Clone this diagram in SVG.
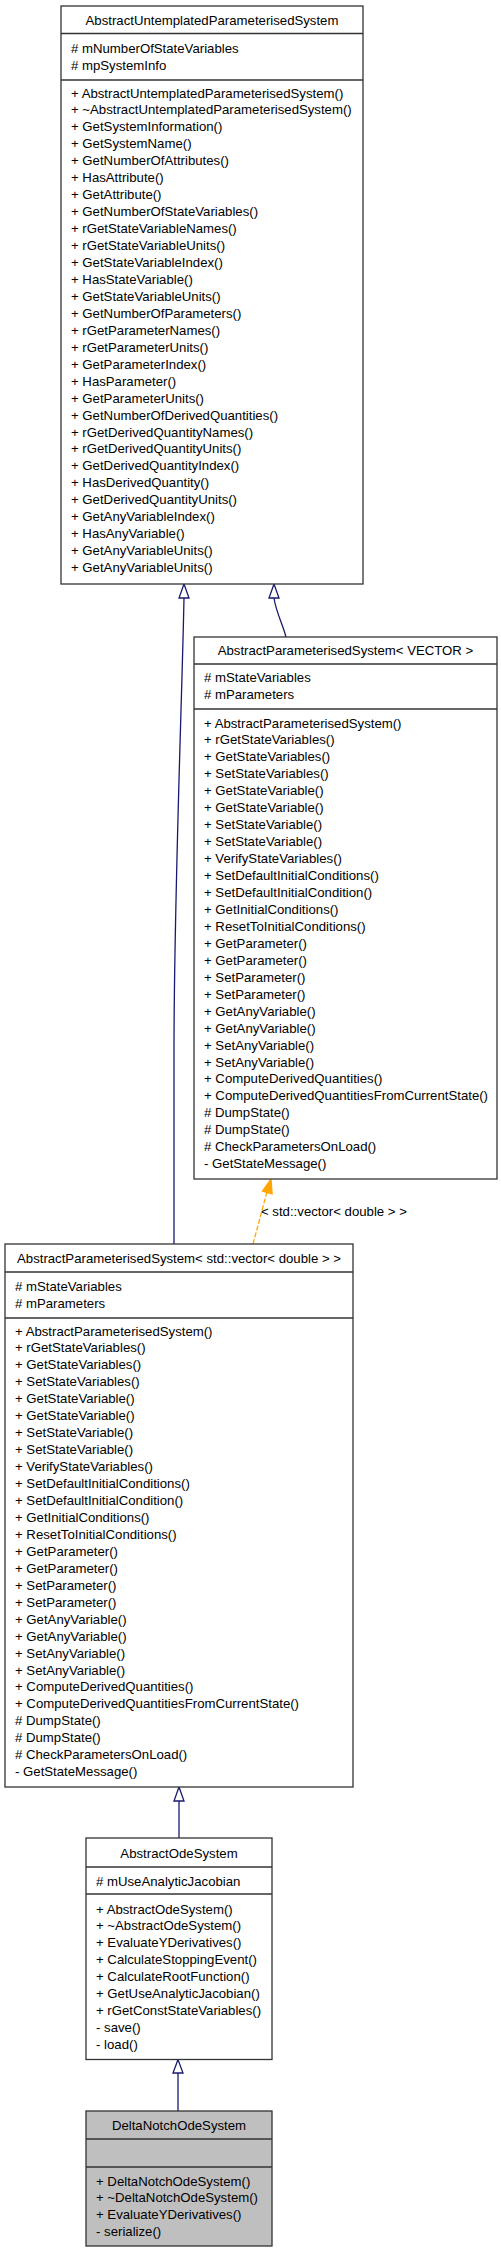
<svg xmlns="http://www.w3.org/2000/svg" width="501" height="2251" viewBox="0 0 501 2251">
<style>
text{font-family:"Liberation Sans",Arial,Helvetica,sans-serif;font-size:13.2px;fill:#000}
.t{text-anchor:middle}
.box{fill:#fff;stroke:#333;stroke-width:1.3}
.gray{fill:#bfbfbf}
.div{stroke:#333;stroke-width:1.3}
.inh{fill:none;stroke:#191970;stroke-width:1.3}
.ah{fill:#fff;stroke:#191970;stroke-width:1.3}
.tmpl{fill:none;stroke:#ffa500;stroke-width:1.3;stroke-dasharray:5,2}
.ao{fill:#ffa500;stroke:#ffa500;stroke-width:1.3}
</style>
<rect width="501" height="2251" fill="#fff"/>
<g id="connectors">
  <path class="inh" d="M286,637 C283,625 276,612 274,598"/>
  <polygon class="ah" points="274,584 269,598 279,598"/>
  <path class="inh" d="M174,1244 L174,1050 C174,900 182,700 184,598"/>
  <polygon class="ah" points="184,584 179,598 189,598"/>
  <path class="tmpl" d="M253,1244 L267,1192"/>
  <polygon class="ao" points="271,1179 262.5,1191.2 272.1,1193.8"/>
  <text x="261" y="1215.5">&lt; std::vector&lt; double &gt; &gt;</text>
  <path class="inh" d="M179,1838 L179,1801"/>
  <polygon class="ah" points="179,1787 174,1801 184,1801"/>
  <path class="inh" d="M178,2111 L178,2073"/>
  <polygon class="ah" points="178,2059.5 173,2073 183,2073"/>
</g>
<g id="AbstractUntemplatedParameterisedSystem">
  <rect class="box" x="61" y="6" width="302" height="578"/>
  <line class="div" x1="61" y1="33.5" x2="363" y2="33.5"/>
  <line class="div" x1="61" y1="80" x2="363" y2="80"/>
  <text class="t" x="212" y="24.5">AbstractUntemplatedParameterisedSystem</text>
  <text x="71" y="52.5"># mNumberOfStateVariables</text>
  <text x="71" y="69.5"># mpSystemInfo</text>
  <text x="71" y="97.5">+ AbstractUntemplatedParameterisedSystem()</text>
  <text x="71" y="114.45">+ ~AbstractUntemplatedParameterisedSystem()</text>
  <text x="71" y="131.4">+ GetSystemInformation()</text>
  <text x="71" y="148.35">+ GetSystemName()</text>
  <text x="71" y="165.3">+ GetNumberOfAttributes()</text>
  <text x="71" y="182.25">+ HasAttribute()</text>
  <text x="71" y="199.2">+ GetAttribute()</text>
  <text x="71" y="216.15">+ GetNumberOfStateVariables()</text>
  <text x="71" y="233.1">+ rGetStateVariableNames()</text>
  <text x="71" y="250.05">+ rGetStateVariableUnits()</text>
  <text x="71" y="267">+ GetStateVariableIndex()</text>
  <text x="71" y="283.95">+ HasStateVariable()</text>
  <text x="71" y="300.9">+ GetStateVariableUnits()</text>
  <text x="71" y="317.85">+ GetNumberOfParameters()</text>
  <text x="71" y="334.8">+ rGetParameterNames()</text>
  <text x="71" y="351.75">+ rGetParameterUnits()</text>
  <text x="71" y="368.7">+ GetParameterIndex()</text>
  <text x="71" y="385.65">+ HasParameter()</text>
  <text x="71" y="402.6">+ GetParameterUnits()</text>
  <text x="71" y="419.55">+ GetNumberOfDerivedQuantities()</text>
  <text x="71" y="436.5">+ rGetDerivedQuantityNames()</text>
  <text x="71" y="453.45">+ rGetDerivedQuantityUnits()</text>
  <text x="71" y="470.4">+ GetDerivedQuantityIndex()</text>
  <text x="71" y="487.35">+ HasDerivedQuantity()</text>
  <text x="71" y="504.3">+ GetDerivedQuantityUnits()</text>
  <text x="71" y="521.25">+ GetAnyVariableIndex()</text>
  <text x="71" y="538.2">+ HasAnyVariable()</text>
  <text x="71" y="555.15">+ GetAnyVariableUnits()</text>
  <text x="71" y="572.1">+ GetAnyVariableUnits()</text>
</g>
<g id="AbstractParameterisedSystem_VECTOR">
  <rect class="box" x="194" y="637" width="303" height="542"/>
  <line class="div" x1="194" y1="664" x2="497" y2="664"/>
  <line class="div" x1="194" y1="709" x2="497" y2="709"/>
  <text class="t" x="345.5" y="655">AbstractParameterisedSystem&lt; VECTOR &gt;</text>
  <text x="204" y="681.5"># mStateVariables</text>
  <text x="204" y="698.5"># mParameters</text>
  <text x="204" y="727.5">+ AbstractParameterisedSystem()</text>
  <text x="204" y="744.45">+ rGetStateVariables()</text>
  <text x="204" y="761.4">+ GetStateVariables()</text>
  <text x="204" y="778.35">+ SetStateVariables()</text>
  <text x="204" y="795.3">+ GetStateVariable()</text>
  <text x="204" y="812.25">+ GetStateVariable()</text>
  <text x="204" y="829.2">+ SetStateVariable()</text>
  <text x="204" y="846.15">+ SetStateVariable()</text>
  <text x="204" y="863.1">+ VerifyStateVariables()</text>
  <text x="204" y="880.05">+ SetDefaultInitialConditions()</text>
  <text x="204" y="897">+ SetDefaultInitialCondition()</text>
  <text x="204" y="913.95">+ GetInitialConditions()</text>
  <text x="204" y="930.9">+ ResetToInitialConditions()</text>
  <text x="204" y="947.85">+ GetParameter()</text>
  <text x="204" y="964.8">+ GetParameter()</text>
  <text x="204" y="981.75">+ SetParameter()</text>
  <text x="204" y="998.7">+ SetParameter()</text>
  <text x="204" y="1015.65">+ GetAnyVariable()</text>
  <text x="204" y="1032.6">+ GetAnyVariable()</text>
  <text x="204" y="1049.55">+ SetAnyVariable()</text>
  <text x="204" y="1066.5">+ SetAnyVariable()</text>
  <text x="204" y="1083.45">+ ComputeDerivedQuantities()</text>
  <text x="204" y="1100.4">+ ComputeDerivedQuantitiesFromCurrentState()</text>
  <text x="204" y="1117.35"># DumpState()</text>
  <text x="204" y="1134.3"># DumpState()</text>
  <text x="204" y="1151.25"># CheckParametersOnLoad()</text>
  <text x="204" y="1168.2">- GetStateMessage()</text>
</g>
<g id="AbstractParameterisedSystem_vector_double">
  <rect class="box" x="5" y="1244" width="348" height="543"/>
  <line class="div" x1="5" y1="1272" x2="353" y2="1272"/>
  <line class="div" x1="5" y1="1318" x2="353" y2="1318"/>
  <text class="t" x="179" y="1262.5">AbstractParameterisedSystem&lt; std::vector&lt; double &gt; &gt;</text>
  <text x="15" y="1290.5"># mStateVariables</text>
  <text x="15" y="1307.5"># mParameters</text>
  <text x="15" y="1335.5">+ AbstractParameterisedSystem()</text>
  <text x="15" y="1352.45">+ rGetStateVariables()</text>
  <text x="15" y="1369.4">+ GetStateVariables()</text>
  <text x="15" y="1386.35">+ SetStateVariables()</text>
  <text x="15" y="1403.3">+ GetStateVariable()</text>
  <text x="15" y="1420.25">+ GetStateVariable()</text>
  <text x="15" y="1437.2">+ SetStateVariable()</text>
  <text x="15" y="1454.15">+ SetStateVariable()</text>
  <text x="15" y="1471.1">+ VerifyStateVariables()</text>
  <text x="15" y="1488.05">+ SetDefaultInitialConditions()</text>
  <text x="15" y="1505">+ SetDefaultInitialCondition()</text>
  <text x="15" y="1521.95">+ GetInitialConditions()</text>
  <text x="15" y="1538.9">+ ResetToInitialConditions()</text>
  <text x="15" y="1555.85">+ GetParameter()</text>
  <text x="15" y="1572.8">+ GetParameter()</text>
  <text x="15" y="1589.75">+ SetParameter()</text>
  <text x="15" y="1606.7">+ SetParameter()</text>
  <text x="15" y="1623.65">+ GetAnyVariable()</text>
  <text x="15" y="1640.6">+ GetAnyVariable()</text>
  <text x="15" y="1657.55">+ SetAnyVariable()</text>
  <text x="15" y="1674.5">+ SetAnyVariable()</text>
  <text x="15" y="1691.45">+ ComputeDerivedQuantities()</text>
  <text x="15" y="1708.4">+ ComputeDerivedQuantitiesFromCurrentState()</text>
  <text x="15" y="1725.35"># DumpState()</text>
  <text x="15" y="1742.3"># DumpState()</text>
  <text x="15" y="1759.25"># CheckParametersOnLoad()</text>
  <text x="15" y="1776.2">- GetStateMessage()</text>
</g>
<g id="AbstractOdeSystem">
  <rect class="box" x="86" y="1838" width="186" height="221.5"/>
  <line class="div" x1="86" y1="1867" x2="272" y2="1867"/>
  <line class="div" x1="86" y1="1894" x2="272" y2="1894"/>
  <text class="t" x="179" y="1857.5">AbstractOdeSystem</text>
  <text x="96" y="1885.5"># mUseAnalyticJacobian</text>
  <text x="96" y="1913.5">+ AbstractOdeSystem()</text>
  <text x="96" y="1930.45">+ ~AbstractOdeSystem()</text>
  <text x="96" y="1947.4">+ EvaluateYDerivatives()</text>
  <text x="96" y="1964.35">+ CalculateStoppingEvent()</text>
  <text x="96" y="1981.3">+ CalculateRootFunction()</text>
  <text x="96" y="1998.25">+ GetUseAnalyticJacobian()</text>
  <text x="96" y="2015.2">+ rGetConstStateVariables()</text>
  <text x="96" y="2032.15">- save()</text>
  <text x="96" y="2049.1">- load()</text>
</g>
<g id="DeltaNotchOdeSystem">
  <rect class="box gray" x="86" y="2111" width="186" height="135"/>
  <line class="div" x1="86" y1="2139" x2="272" y2="2139"/>
  <line class="div" x1="86" y1="2167" x2="272" y2="2167"/>
  <text class="t" x="179" y="2129.5">DeltaNotchOdeSystem</text>
  <text x="96" y="2185.5">+ DeltaNotchOdeSystem()</text>
  <text x="96" y="2202.45">+ ~DeltaNotchOdeSystem()</text>
  <text x="96" y="2219.4">+ EvaluateYDerivatives()</text>
  <text x="96" y="2236.35">- serialize()</text>
</g>
</svg>
